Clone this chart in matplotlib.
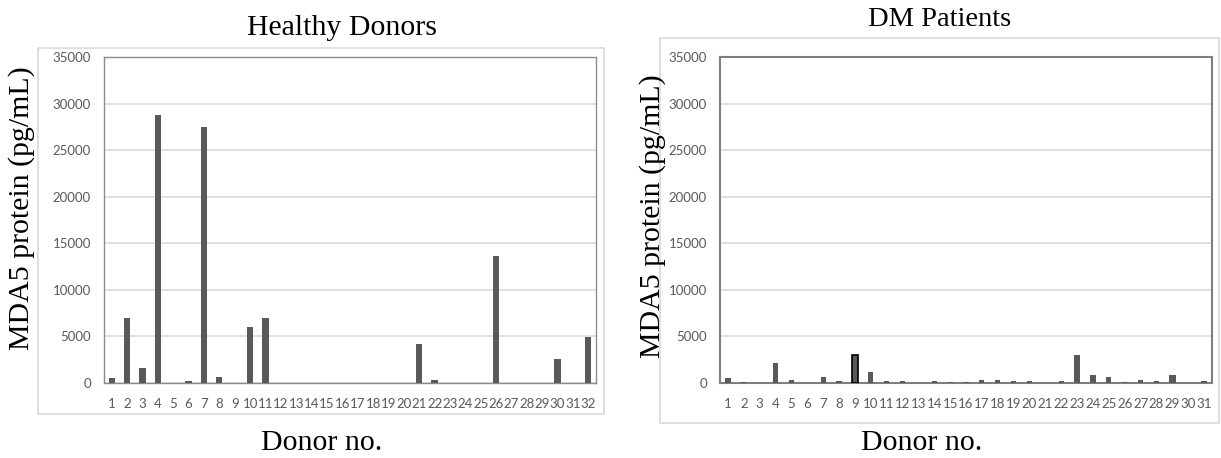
import numpy as np
import matplotlib
matplotlib.use("Agg")
import matplotlib.pyplot as plt
from matplotlib.patches import Rectangle

# Healthy donors (pg/mL)
healthy_ids = list(range(1, 33))
healthy_vals = [550, 7000, 1600, 28800, 0, 250, 27500, 650, 0, 6000,
                7000, 0, 0, 0, 0, 0, 0, 0, 0, 0,
                4200, 350, 0, 0, 0, 13600, 0, 0, 0, 2600,
                0, 4900]

# DM patients (pg/mL)
dm_ids = list(range(1, 32))
dm_vals = [500, 150, 0, 2200, 360, 0, 610, 250, 2990, 1190,
           250, 250, 0, 250, 150, 150, 360, 360, 250, 250,
           0, 250, 2990, 900, 650, 150, 360, 250, 900, 0,
           250]

yticks = list(range(0, 35001, 5000))

BAR = "#595959"
GRID = "#d9d9d9"
TICK = "#595959"
SERIF = ["Liberation Serif", "DejaVu Serif"]
SANS = ["Lato", "DejaVu Sans"]
W, H = 1221, 458

fig = plt.figure(figsize=(W / 100, H / 100), dpi=100)

# light outer chart boxes
for (x0, y0, x1, y1) in [(38, 48, 604, 414), (660, 38, 1219, 423)]:
    fig.patches.append(Rectangle((x0 / W, 1 - y1 / H), (x1 - x0) / W, (y1 - y0) / H,
                                 transform=fig.transFigure, fill=False,
                                 edgecolor="#d9d9d9", linewidth=1.2, zorder=0))


def panel(rect, ids, vals, width, frame_color, frame_lw):
    ax = fig.add_axes(rect)
    ax.bar(ids, vals, width=width, color=BAR, zorder=3)
    ax.set_xlim(0.5, len(ids) + 0.5)
    ax.set_ylim(0, 35000)
    ax.set_yticks(yticks)
    ax.set_yticklabels([str(v) for v in yticks], fontfamily=SANS, fontsize=9.5, color=TICK)
    ax.set_xticks(ids)
    ax.set_xticklabels([str(i) for i in ids], fontfamily=SANS, fontsize=9.5, color=TICK)
    ax.tick_params(axis="y", length=0, pad=9.5)
    ax.tick_params(axis="x", length=0, pad=10.5)
    ax.yaxis.grid(True, color=GRID, linewidth=1.2, zorder=0)
    ax.set_axisbelow(True)
    for s in ax.spines.values():
        s.set_color(frame_color)
        s.set_linewidth(frame_lw)
    return ax


ax1 = panel([104 / W, 1 - 383 / H, 492 / W, 326 / H],
            healthy_ids, healthy_vals, 0.4, "#8c8c8c", 1.0)
ax2 = panel([720 / W, 1 - 383 / H, 492 / W, 326 / H],
            dm_ids, dm_vals, 0.33, "#7f7f7f", 1.5)

# patient 9 drawn with outline, a bit wider like the original
b9 = ax2.patches[8]
b9.set_edgecolor("black")
b9.set_linewidth(1.2)
b9.set_width(0.4)
b9.set_x(9 - 0.2)
b29 = ax2.patches[28]
b29.set_width(0.42)
b29.set_x(29 - 0.21)

# titles and axis labels
fig.text(342 / W, 1 - 35 / H, "Healthy Donors", ha="center", va="baseline",
         fontfamily=SERIF, fontsize=21.5)
fig.text(940 / W, 1 - 26 / H, "DM Patients", ha="center", va="baseline",
         fontfamily=SERIF, fontsize=20.5)
for xc in (322, 922):
    fig.text(xc / W, 1 - 450 / H, "Donor no.", ha="center", va="baseline",
             fontfamily=SERIF, fontsize=21.5)
fig.text(22 / W, 1 - 208 / H, "MDA5 protein (pg/mL)", ha="center", va="center",
         rotation=90, fontfamily=SERIF, fontsize=21.5)
fig.text(653 / W, 1 - 216 / H, "MDA5 protein (pg/mL)", ha="center", va="center",
         rotation=90, fontfamily=SERIF, fontsize=21.5)

fig.savefig("out.png", dpi=100)
